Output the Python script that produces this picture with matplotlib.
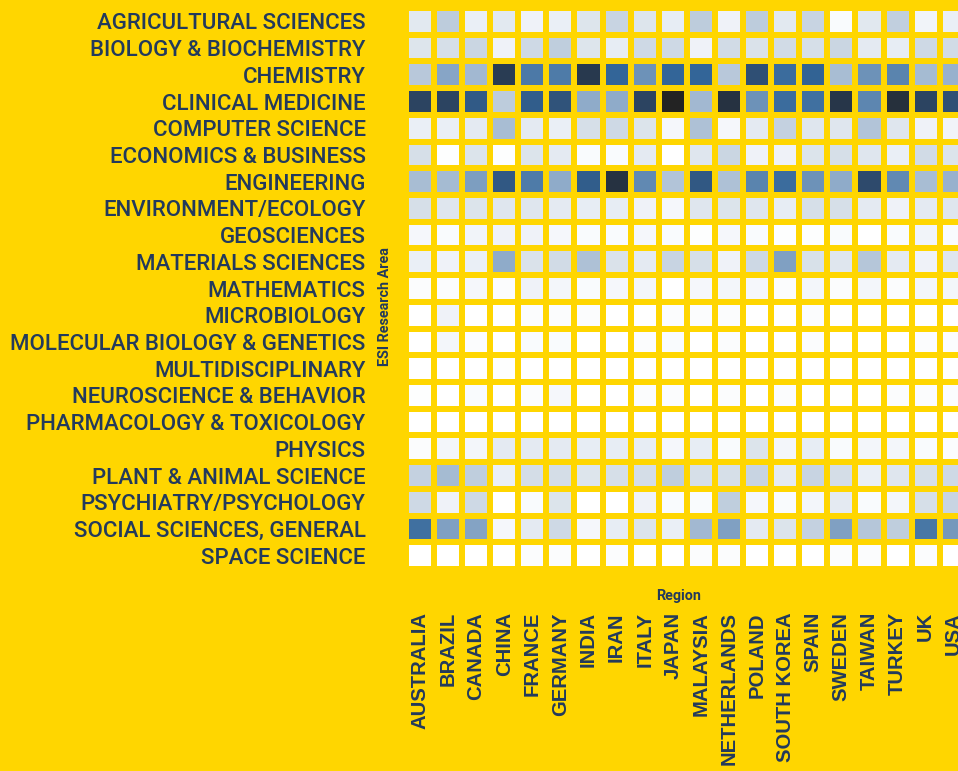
"""ESI research area x region heatmap on a yellow ground."""

import matplotlib

matplotlib.use("Agg")
import matplotlib.pyplot as plt
import numpy as np
from matplotlib.colors import LinearSegmentedColormap

regions = ["AUSTRALIA", "BRAZIL", "CANADA", "CHINA", "FRANCE", "GERMANY", "INDIA", "IRAN",
           "ITALY", "JAPAN", "MALAYSIA", "NETHERLANDS", "POLAND", "SOUTH KOREA", "SPAIN",
           "SWEDEN", "TAIWAN", "TURKEY", "UK", "USA"]

areas = ["AGRICULTURAL SCIENCES", "BIOLOGY & BIOCHEMISTRY", "CHEMISTRY", "CLINICAL MEDICINE",
         "COMPUTER SCIENCE", "ECONOMICS & BUSINESS", "ENGINEERING", "ENVIRONMENT/ECOLOGY",
         "GEOSCIENCES", "MATERIALS SCIENCES", "MATHEMATICS", "MICROBIOLOGY",
         "MOLECULAR BIOLOGY & GENETICS", "MULTIDISCIPLINARY", "NEUROSCIENCE & BEHAVIOR",
         "PHARMACOLOGY & TOXICOLOGY", "PHYSICS", "PLANT & ANIMAL SCIENCE",
         "PSYCHIATRY/PSYCHOLOGY", "SOCIAL SCIENCES, GENERAL", "SPACE SCIENCE"]

# relative intensity (0-100), one list per research area, columns in `regions` order
agricultural = [15, 33, 10, 15, 8, 10, 18, 28, 18, 12, 33, 8, 33, 15, 28, 3, 16, 31, 7, 10]
biology = [18, 22, 27, 8, 25, 32, 18, 12, 25, 25, 8, 24, 20, 24, 22, 27, 14, 12, 25, 24]
chemistry = [35, 50, 42, 92, 66, 65, 93, 75, 57, 75, 75, 35, 83, 72, 76, 40, 57, 62, 41, 45]
clinical = [88, 88, 79, 33, 78, 82, 48, 48, 88, 100, 42, 95, 57, 72, 70, 94, 61, 96, 88, 83]
computer = [10, 10, 14, 40, 14, 10, 22, 25, 19, 5, 38, 5, 14, 30, 17, 17, 37, 17, 8, 7]
economics = [22, 1, 19, 1, 19, 14, 3, 3, 14, 0, 17, 27, 8, 8, 19, 22, 17, 10, 24, 19]
engineering = [40, 41, 53, 80, 65, 48, 78, 95, 60, 37, 80, 38, 62, 72, 57, 48, 85, 60, 40, 45]
environment = [22, 17, 19, 17, 17, 14, 12, 12, 8, 5, 17, 19, 17, 12, 22, 22, 14, 8, 14, 17]
geosciences = [5, 3, 7, 8, 8, 5, 3, 3, 5, 3, 1, 5, 3, 1, 1, 3, 0, 3, 7, 3]
materials = [10, 8, 10, 48, 20, 24, 38, 20, 14, 28, 22, 8, 26, 52, 21, 17, 36, 14, 8, 17]
mathematics = [2, 2, 5, 2, 8, 6, 3, 5, 6, 0, 5, 6, 5, 2, 6, 2, 6, 2, 6, 6]
microbiology = [0, 8, 0, 0, 2, 2, 2, 0, 0, 2, 2, 2, 0, 0, 2, 0, 0, 0, 0, 0]
molecular = [0, 6, 2, 0, 3, 3, 0, 0, 2, 3, 0, 2, 0, 0, 2, 0, 0, 0, 2, 2]
multidisciplinary = [0, 0, 0, 1, 0, 0, 0, 0, 0, 0, 0, 0, 0, 0, 0, 0, 0, 0, 0, 0]
neuroscience = [1, 0, 3, 0, 2, 5, 0, 0, 2, 2, 0, 2, 0, 2, 0, 0, 0, 2, 2, 2]
pharmacology = [0, 0, 0, 0, 0, 0, 0, 0, 0, 0, 0, 0, 0, 0, 0, 0, 0, 0, 0, 0]
physics = [2, 6, 6, 14, 14, 14, 12, 12, 12, 5, 12, 3, 19, 6, 12, 3, 6, 6, 3, 2]
plant_animal = [30, 41, 32, 10, 23, 23, 18, 22, 23, 32, 22, 22, 28, 14, 28, 23, 10, 17, 22, 25]
psychiatry = [25, 8, 25, 0, 3, 19, 0, 0, 8, 3, 3, 32, 5, 3, 6, 14, 3, 6, 22, 28]
social = [70, 52, 51, 5, 14, 25, 5, 12, 19, 10, 42, 52, 14, 19, 30, 52, 36, 32, 67, 55]
space = [0, 0, 0, 0, 2, 2, 0, 2, 0, 0, 2, 2, 0, 0, 0, 2, 2, 0, 2, 0]

rows = [agricultural, biology, chemistry, clinical, computer, economics, engineering,
        environment, geosciences, materials, mathematics, microbiology, molecular,
        multidisciplinary, neuroscience, pharmacology, physics, plant_animal, psychiatry,
        social, space]

YELLOW = "#FFD600"
NAVY = "#233a5c"

cmap = LinearSegmentedColormap.from_list(
    "esi",
    [(0.0, "#ffffff"), (0.10, "#eaeff6"), (0.20, "#dae2ea"), (0.35, "#b8c8da"),
     (0.50, "#88a6c6"), (0.65, "#4e7ba8"), (0.75, "#336699"), (0.85, "#2e4a6c"),
     (0.93, "#283a50"), (1.0, "#232323")],
)

grid = np.array(rows, dtype=float)

fig = plt.figure(figsize=(9.58, 7.71), dpi=100, facecolor=YELLOW)
ax = fig.add_axes([405.8 / 958, 1 - 569 / 771, 562 / 958, 561 / 771])
ax.set_facecolor(YELLOW)
ax.pcolormesh(grid, cmap=cmap, vmin=0, vmax=100, edgecolors=YELLOW, linewidth=2.9)
ax.set_xlim(0, len(regions))
ax.set_ylim(len(areas), 0)
for s in ax.spines.values():
    s.set_visible(False)

ax.set_xticks(np.arange(len(regions)) + 0.5)
ax.set_xticklabels(regions, rotation=90, family="Liberation Sans", fontweight="bold",
                   fontsize=14.6, color=NAVY, va="top", ha="center")
ax.set_yticks(np.arange(len(areas)) + 0.5)
ax.set_yticklabels(areas, family="Roboto", fontweight="medium", fontsize=16, color=NAVY)
ax.tick_params(axis="x", length=0, pad=31)
ax.tick_params(axis="y", length=0, pad=29)

ax.set_xlabel("Region", family="Roboto", fontweight="bold", fontsize=10.4, color=NAVY)
ax.xaxis.set_label_coords(0.485, -0.035)
ax.set_ylabel("ESI Research Area", family="Roboto", fontweight="bold", fontsize=10.4,
              color=NAVY)
ax.yaxis.set_label_coords(-0.025, 0.467)

fig.savefig("out.png", dpi=100, facecolor=YELLOW)
